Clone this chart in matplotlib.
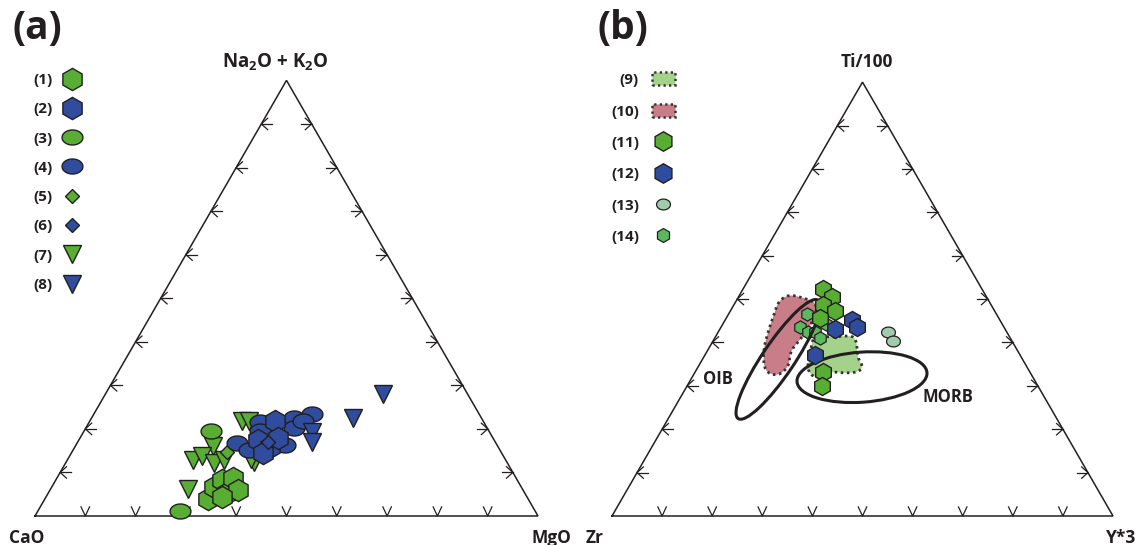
import numpy as np
import matplotlib
matplotlib.use('Agg')
import matplotlib.pyplot as plt
from matplotlib.path import Path
from matplotlib.patches import Polygon, Ellipse, Patch
from matplotlib.lines import Line2D

plt.rcParams['font.family'] = ['Open Sans', 'DejaVu Sans']
plt.rcParams['font.weight'] = 'bold'
plt.rcParams['mathtext.fontset'] = 'custom'
plt.rcParams['mathtext.rm'] = 'Open Sans:bold'
plt.rcParams['mathtext.bf'] = 'Open Sans:bold'

INK = '#231f20'
GREEN = '#58ad33'
BLUE = '#2f4c9f'
PINK = '#c97d89'
LGREEN = '#a5d28b'
PALE = '#a0cda9'
MGREEN = '#5cb85f'

# ---- (a) CaO - MgO - (Na2O+K2O), в процентах: (CaO, MgO, Na2O+K2O)
hex_green_a = [(63.6, 32.5, 3.9), (61.1, 32.3, 6.6), (58.7, 33.1, 8.2), (59.2, 35.5, 5.3),
               (56.3, 35.0, 8.7), (56.7, 37.4, 5.9), (60.7, 35.0, 4.3)]
hex_blue_a = [(41.4, 36.9, 21.7), (47.0, 35.6, 17.4), (45.4, 38.8, 15.8), (47.5, 38.1, 14.4),
              (42.8, 39.4, 17.8)]
oval_green_a = [(55.3, 25.3, 19.4), (70.7, 28.2, 1.1)]
oval_blue_a = [(33.2, 43.3, 23.5), (37.3, 40.3, 22.4), (38.4, 41.5, 20.1), (44.5, 34.0, 21.5),
               (45.6, 35.0, 19.4), (51.4, 31.9, 16.7), (49.9, 35.0, 15.1), (42.2, 41.6, 16.2),
               (35.8, 42.3, 21.9)]
dia_green_a = [(54.5, 30.9, 14.6)]
dia_blue_a = [(45.2, 37.9, 16.9)]
tri_green_a = [(47.9, 30.4, 21.7), (46.6, 31.7, 21.7), (56.6, 27.4, 16.0), (62.2, 25.0, 12.8),
               (59.9, 26.4, 13.7), (58.3, 29.6, 12.1), (56.0, 31.2, 12.8), (50.4, 37.3, 12.3),
               (66.5, 27.3, 6.2), (50.6, 36.4, 13.0)]
tri_blue_a = [(16.8, 55.3, 27.9), (25.5, 51.9, 22.6), (35.3, 45.5, 19.2), (36.4, 46.7, 16.9)]

# ---- (b) Zr - Ti/100 - Y*3: (Zr, Ti/100, Y*3)
hex_green_b = [(31.7, 52.3, 16.0), (30.8, 50.5, 18.7), (33.6, 48.6, 17.8), (31.8, 47.3, 20.9),
               (35.6, 45.7, 18.7), (41.3, 33.3, 25.4), (43.2, 29.9, 26.9)]
hex_blue_b = [(33.9, 43.2, 22.9), (29.5, 45.2, 25.3), (29.3, 43.6, 27.1), (40.9, 37.2, 21.9)]
oval_pale_b = [(23.6, 42.5, 33.9), (23.7, 40.4, 35.9)]
hex_small_b = [(37.8, 46.6, 15.6), (40.7, 43.6, 15.7), (39.6, 42.5, 17.9), (38.9, 42.9, 19.6),
               (37.9, 41.1, 21.0), (35.2, 44.3, 20.5)]

field_green = [(38.5, 42.0, 19.5), (35.9, 41.1, 23.0), (32.3, 41.6, 26.1), (30.7, 41.1, 28.2),
               (32.8, 36.3, 30.9), (32.6, 34.7, 32.7), (33.9, 33.3, 32.8), (36.6, 32.9, 30.5),
               (39.9, 33.3, 26.8), (43.7, 31.7, 24.6), (44.2, 33.8, 22.0), (42.1, 36.8, 21.1),
               (40.3, 39.7, 20.0)]
field_pink = [(42.2, 49.3, 8.5), (39.3, 51.1, 9.6), (36.4, 50.2, 13.4), (34.4, 48.9, 16.7),
              (37.9, 44.3, 17.8), (42.2, 40.6, 17.2), (45.5, 37.9, 16.6), (47.4, 34.5, 18.1),
              (50.8, 32.2, 17.0), (52.9, 33.3, 13.8), (50.9, 37.9, 11.2), (47.6, 42.5, 9.9),
              (44.0, 47.0, 9.0)]

# поля OIB и MORB: центр (Zr, Ti, Y), длина осей и наклон
oib = dict(center=(48.8, 36.1, 15.1), w=0.285, h=0.064, angle=56)
morb = dict(center=(34.1, 32.0, 33.9), w=0.26, h=0.10, angle=4)
oib_label = (63.1, 31.5, 5.4)
morb_label = (19.2, 27.4, 53.4)

labels_a = ['(1)', '(2)', '(3)', '(4)', '(5)', '(6)', '(7)', '(8)']
labels_b = ['(9)', '(10)', '(11)', '(12)', '(13)', '(14)']

H = np.sqrt(3) / 2
ORDER_A = (0, 1, 2)   # левая, правая, верхняя вершины
ORDER_B = (0, 2, 1)


def tern(points, order):
    # состав -> декартовы координаты треугольника
    p = np.array(points, dtype=float)[:, list(order)]
    p = p / p.sum(axis=1, keepdims=True)
    return p[:, 1] + p[:, 2] / 2, p[:, 2] * H


def chaikin(xy, n=2):
    pts = np.array(xy)
    for _ in range(n):
        nxt = np.roll(pts, -1, axis=0)
        q = 0.75 * pts + 0.25 * nxt
        r = 0.25 * pts + 0.75 * nxt
        pts = np.empty((2 * len(q), 2))
        pts[0::2] = q
        pts[1::2] = r
    return pts


def frame(ax):
    ax.plot([0, 1, 0.5, 0], [0, 0, H, 0], color=INK, lw=1.1, solid_joinstyle='miter', zorder=1)
    L, a, av = 0.022, 0.017, 0.02
    c, s = np.cos(np.radians(42)), np.sin(np.radians(42))
    cv, sv = np.cos(np.radians(25)), np.sin(np.radians(25))
    for f in np.arange(1, 10) / 10:
        # основание: V
        ax.plot([f - av * sv, f, f + av * sv], [av * cv, 0, av * cv], color=INK, lw=0.9, zorder=1)
        # левая сторона
        x0, y0 = f / 2, f * H
        ax.plot([x0 + L, x0], [y0, y0], color=INK, lw=0.9, zorder=1)
        ax.plot([x0 + a * c, x0, x0 + a * c], [y0 + a * s, y0, y0 - a * s], color=INK, lw=0.9, zorder=1)
        # правая сторона
        x1 = 1 - f / 2
        ax.plot([x1 - L, x1], [y0, y0], color=INK, lw=0.9, zorder=1)
        ax.plot([x1 - a * c, x1, x1 - a * c], [y0 + a * s, y0, y0 - a * s], color=INK, lw=0.9, zorder=1)


theta = np.linspace(0, 2 * np.pi, 80)
oval = Path(np.column_stack([np.cos(theta), 0.72 * np.sin(theta)]), closed=True)
oval_s = Path(np.column_stack([np.cos(theta), 0.78 * np.sin(theta)]), closed=True)

fig = plt.figure(figsize=(11.43, 5.45), dpi=100)
W, Hf = 1143, 545

# ---------------- (a)
ax1 = fig.add_axes([0, 0, 571 / W, 1])
ax1.set_xlim((0 - 35) / 503, (571 - 35) / 503)
ax1.set_ylim((516 - 545) / 503, 516 / 503)
ax1.axis('off')
frame(ax1)

series_a = [
    (hex_green_a, 'h', GREEN, 16),
    (hex_blue_a, 'h', BLUE, 16),
    (oval_green_a, oval, GREEN, 15),
    (oval_blue_a, oval, BLUE, 15),
    (dia_green_a, 'D', GREEN, 7),
    (dia_blue_a, 'D', BLUE, 7),
    (tri_green_a, 'v', GREEN, 12.5),
    (tri_blue_a, 'v', BLUE, 12.5),
]
order_a = [0, 6, 2, 4, 3, 1, 5, 7]
handles_a = []
for pts, m, col, ms in series_a:
    handles_a.append(Line2D([], [], ls='none', marker=m, ms=ms, mfc=col, mec=INK, mew=1.0))
for z, i in enumerate(order_a):
    pts, m, col, ms = series_a[i]
    x, y = tern(pts, ORDER_A)
    ax1.plot(x, y, ls='none', marker=m, ms=ms, mfc=col, mec=INK, mew=1.0, zorder=3 + z)

ax1.text((27 - 35) / 503, (516 - 538) / 503, 'CaO', ha='center', va='center', fontsize=12.5, color=INK)
ax1.text((551 - 35) / 503, (516 - 538) / 503, 'MgO', ha='center', va='center', fontsize=12.5, color=INK)
ax1.text((275 - 35) / 503, (516 - 62) / 503, r'Na$_\mathbf{2}$O + K$_\mathbf{2}$O',
         ha='center', va='center', fontsize=13.5, color=INK)

leg1 = fig.legend(handles_a, labels_a, loc='upper left', bbox_to_anchor=(33 / W, 1 - 73 / Hf),
                  frameon=False, markerfirst=False, fontsize=11, labelspacing=1.0,
                  handlelength=1.6, handletextpad=0.5, borderpad=0, borderaxespad=0)
for t in leg1.get_texts():
    t.set_color(INK)

# ---------------- (b)
ax2 = fig.add_axes([571 / W, 0, 572 / W, 1])
ax2.set_xlim((571 - 612) / 501, (1143 - 612) / 501)
ax2.set_ylim((516 - 545) / 501, 516 / 501)
ax2.axis('off')
frame(ax2)

dots = (0, (0.9, 1.3))
for field, col in [(field_pink, PINK), (field_green, LGREEN)]:
    x, y = tern(field, ORDER_B)
    ax2.add_patch(Polygon(chaikin(np.column_stack([x, y])), closed=True, facecolor=col,
                          edgecolor='#333333', lw=2.0, linestyle=dots, zorder=2))

x, y = tern(hex_small_b, ORDER_B)
ax2.plot(x, y, ls='none', marker='h', ms=9.5, mfc=MGREEN, mec=INK, mew=0.9, zorder=3)

for e in (oib, morb):
    cx, cy = tern([e['center']], ORDER_B)
    ax2.add_patch(Ellipse((cx[0], cy[0]), e['w'], e['h'], angle=e['angle'], fill=False,
                          edgecolor=INK, lw=2.2, zorder=4))

x, y = tern(hex_green_b, ORDER_B)
ax2.plot(x, y, ls='none', marker='h', ms=13, mfc=GREEN, mec=INK, mew=1.0, zorder=5)
x, y = tern(hex_blue_b, ORDER_B)
ax2.plot(x, y, ls='none', marker='h', ms=13, mfc=BLUE, mec=INK, mew=1.0, zorder=6)
x, y = tern(oval_pale_b, ORDER_B)
ax2.plot(x, y, ls='none', marker=oval_s, ms=10, mfc=PALE, mec=INK, mew=0.9, zorder=6)

ox, oy = tern([oib_label], ORDER_B)
ax2.text(ox[0], oy[0], 'OIB', ha='center', va='center', fontsize=12, color=INK)
mx, my = tern([morb_label], ORDER_B)
ax2.text(mx[0], my[0], 'MORB', ha='center', va='center', fontsize=12, color=INK)

ax2.text((595 - 612) / 501, (516 - 538) / 501, 'Zr', ha='center', va='center', fontsize=12.5, color=INK)
ax2.text((1121 - 612) / 501, (516 - 538) / 501, 'Y*3', ha='center', va='center', fontsize=12.5, color=INK)
ax2.text((867 - 612) / 501, (516 - 62) / 501, 'Ti/100', ha='center', va='center', fontsize=12.5, color=INK)

handles_b = [Patch(facecolor=LGREEN, edgecolor='#333333', lw=1.8, linestyle=dots),
             Patch(facecolor=PINK, edgecolor='#333333', lw=1.8, linestyle=dots),
             Line2D([], [], ls='none', marker='h', ms=14, mfc=GREEN, mec=INK, mew=1.0),
             Line2D([], [], ls='none', marker='h', ms=14, mfc=BLUE, mec=INK, mew=1.0),
             Line2D([], [], ls='none', marker=oval_s, ms=10, mfc=PALE, mec=INK, mew=0.9),
             Line2D([], [], ls='none', marker='h', ms=10, mfc=MGREEN, mec=INK, mew=0.9)]
leg2 = fig.legend(handles_b, labels_b, loc='upper left', bbox_to_anchor=(611 / W, 1 - 72.5 / Hf),
                  frameon=False, markerfirst=False, fontsize=11, labelspacing=1.1,
                  handlelength=1.5, handleheight=0.9, handletextpad=0.85, borderpad=0, borderaxespad=0)
for t in leg2.get_texts():
    t.set_color(INK)

fig.text(12 / W, 1 - 28 / Hf, '(a)', fontsize=28, ha='left', va='center', color=INK)
fig.text(598 / W, 1 - 28 / Hf, '(b)', fontsize=28, ha='left', va='center', color=INK)

fig.savefig('out.png', dpi=100)
